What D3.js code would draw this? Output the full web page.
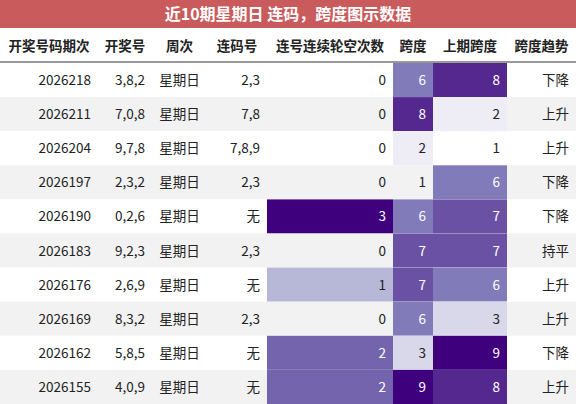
<!DOCTYPE html><html><head><meta charset="utf-8"><script src="https://cdn.jsdelivr.net/npm/d3@7"></script>
<style>body{margin:0;background:#fff}</style></head><body><svg id="c" width="576" height="404"></svg><script>
const title="近10期星期日 连码，跨度图示数据";
const headers=["开奖号码期次","开奖号","周次","连码号","连号连续轮空次数","跨度","上期跨度","跨度趋势"];
const periods=["2026218","2026211","2026204","2026197","2026190","2026183","2026176","2026169","2026162","2026155"];
const draws=["3,8,2","7,0,8","9,7,8","2,3,2","0,2,6","9,2,3","2,6,9","8,3,2","5,8,5","4,0,9"];
const weekday=["星期日","星期日","星期日","星期日","星期日","星期日","星期日","星期日","星期日","星期日"];
const consec=["2,3","7,8","7,8,9","2,3","无","2,3","无","2,3","无","无"];
const miss=[0,0,0,0,3,0,1,0,2,2];
const span=[6,8,2,1,6,7,7,6,3,9];
const prevSpan=[8,2,1,6,7,7,6,3,9,8];
const trend=["下降","上升","上升","下降","下降","持平","上升","上升","下降","上升"];
const svg=d3.select("#c");
const xs=[0,98,152,207,267,393,433,507,576];
const rowTop=63,rh=34.1,headTop=28;
const y=d3.scaleBand().domain(periods).range([rowTop,404]);
const missC=d3.scaleSequential(d3.interpolatePurples).domain([-0.3,3]);
const spanC=d3.scaleSequential(d3.interpolatePurples).domain([1,9]);
svg.append("rect").attr("width",576).attr("height",28).attr("fill","#c95b5c");
svg.append("text").attr("x",288).attr("y",20).attr("text-anchor","middle").attr("fill","#fff").attr("font-size",16).attr("font-weight","bold").attr("font-family","Noto Sans CJK SC").text(title);
headers.forEach((h,i)=>svg.append("text").attr("x",(xs[i]+xs[i+1])/2).attr("y",51).attr("text-anchor","middle").attr("font-size",13.5).attr("font-weight","bold").attr("font-family","Noto Sans CJK SC").attr("fill","#222").text(h));
svg.append("line").attr("x1",0).attr("x2",576).attr("y1",62).attr("y2",62).attr("stroke","#333").attr("stroke-width",1.2);
periods.forEach((p,r)=>{
  const g=svg.append("g").attr("transform",`translate(0,${y(p)})`);
  const h=y.bandwidth();
  g.append("rect").attr("width",576).attr("height",h).attr("fill",r%2?"#f2f2f2":"#fff");
  const cells=[[p,null,"end"],[draws[r],null,"end"],[weekday[r],null,"middle"],[consec[r],null,"end"],[miss[r],missC(miss[r]),"end"],[span[r],spanC(span[r]),"end"],[prevSpan[r],spanC(prevSpan[r]),"end"],[trend[r],null,"end"]];
  cells.forEach((c,i)=>{
    if(c[1]&&!(i==4&&miss[r]==0)&&!(i>4&&c[0]==1)) g.append("rect").attr("x",xs[i]).attr("width",xs[i+1]-xs[i]).attr("height",h).attr("fill",c[1]);
    const dark=i==4?miss[r]>=2:(i>4&&c[0]>=6);
    const tx=c[2]=="middle"?(xs[i]+xs[i+1])/2:xs[i+1]-7;
    g.append("text").attr("x",tx).attr("y",h/2+5).attr("text-anchor",c[2]).attr("font-size",13.5).attr("font-family","Noto Sans CJK SC").attr("fill",dark?"#fff":"#222").text(c[0]);
  });
});
</script></body></html>
